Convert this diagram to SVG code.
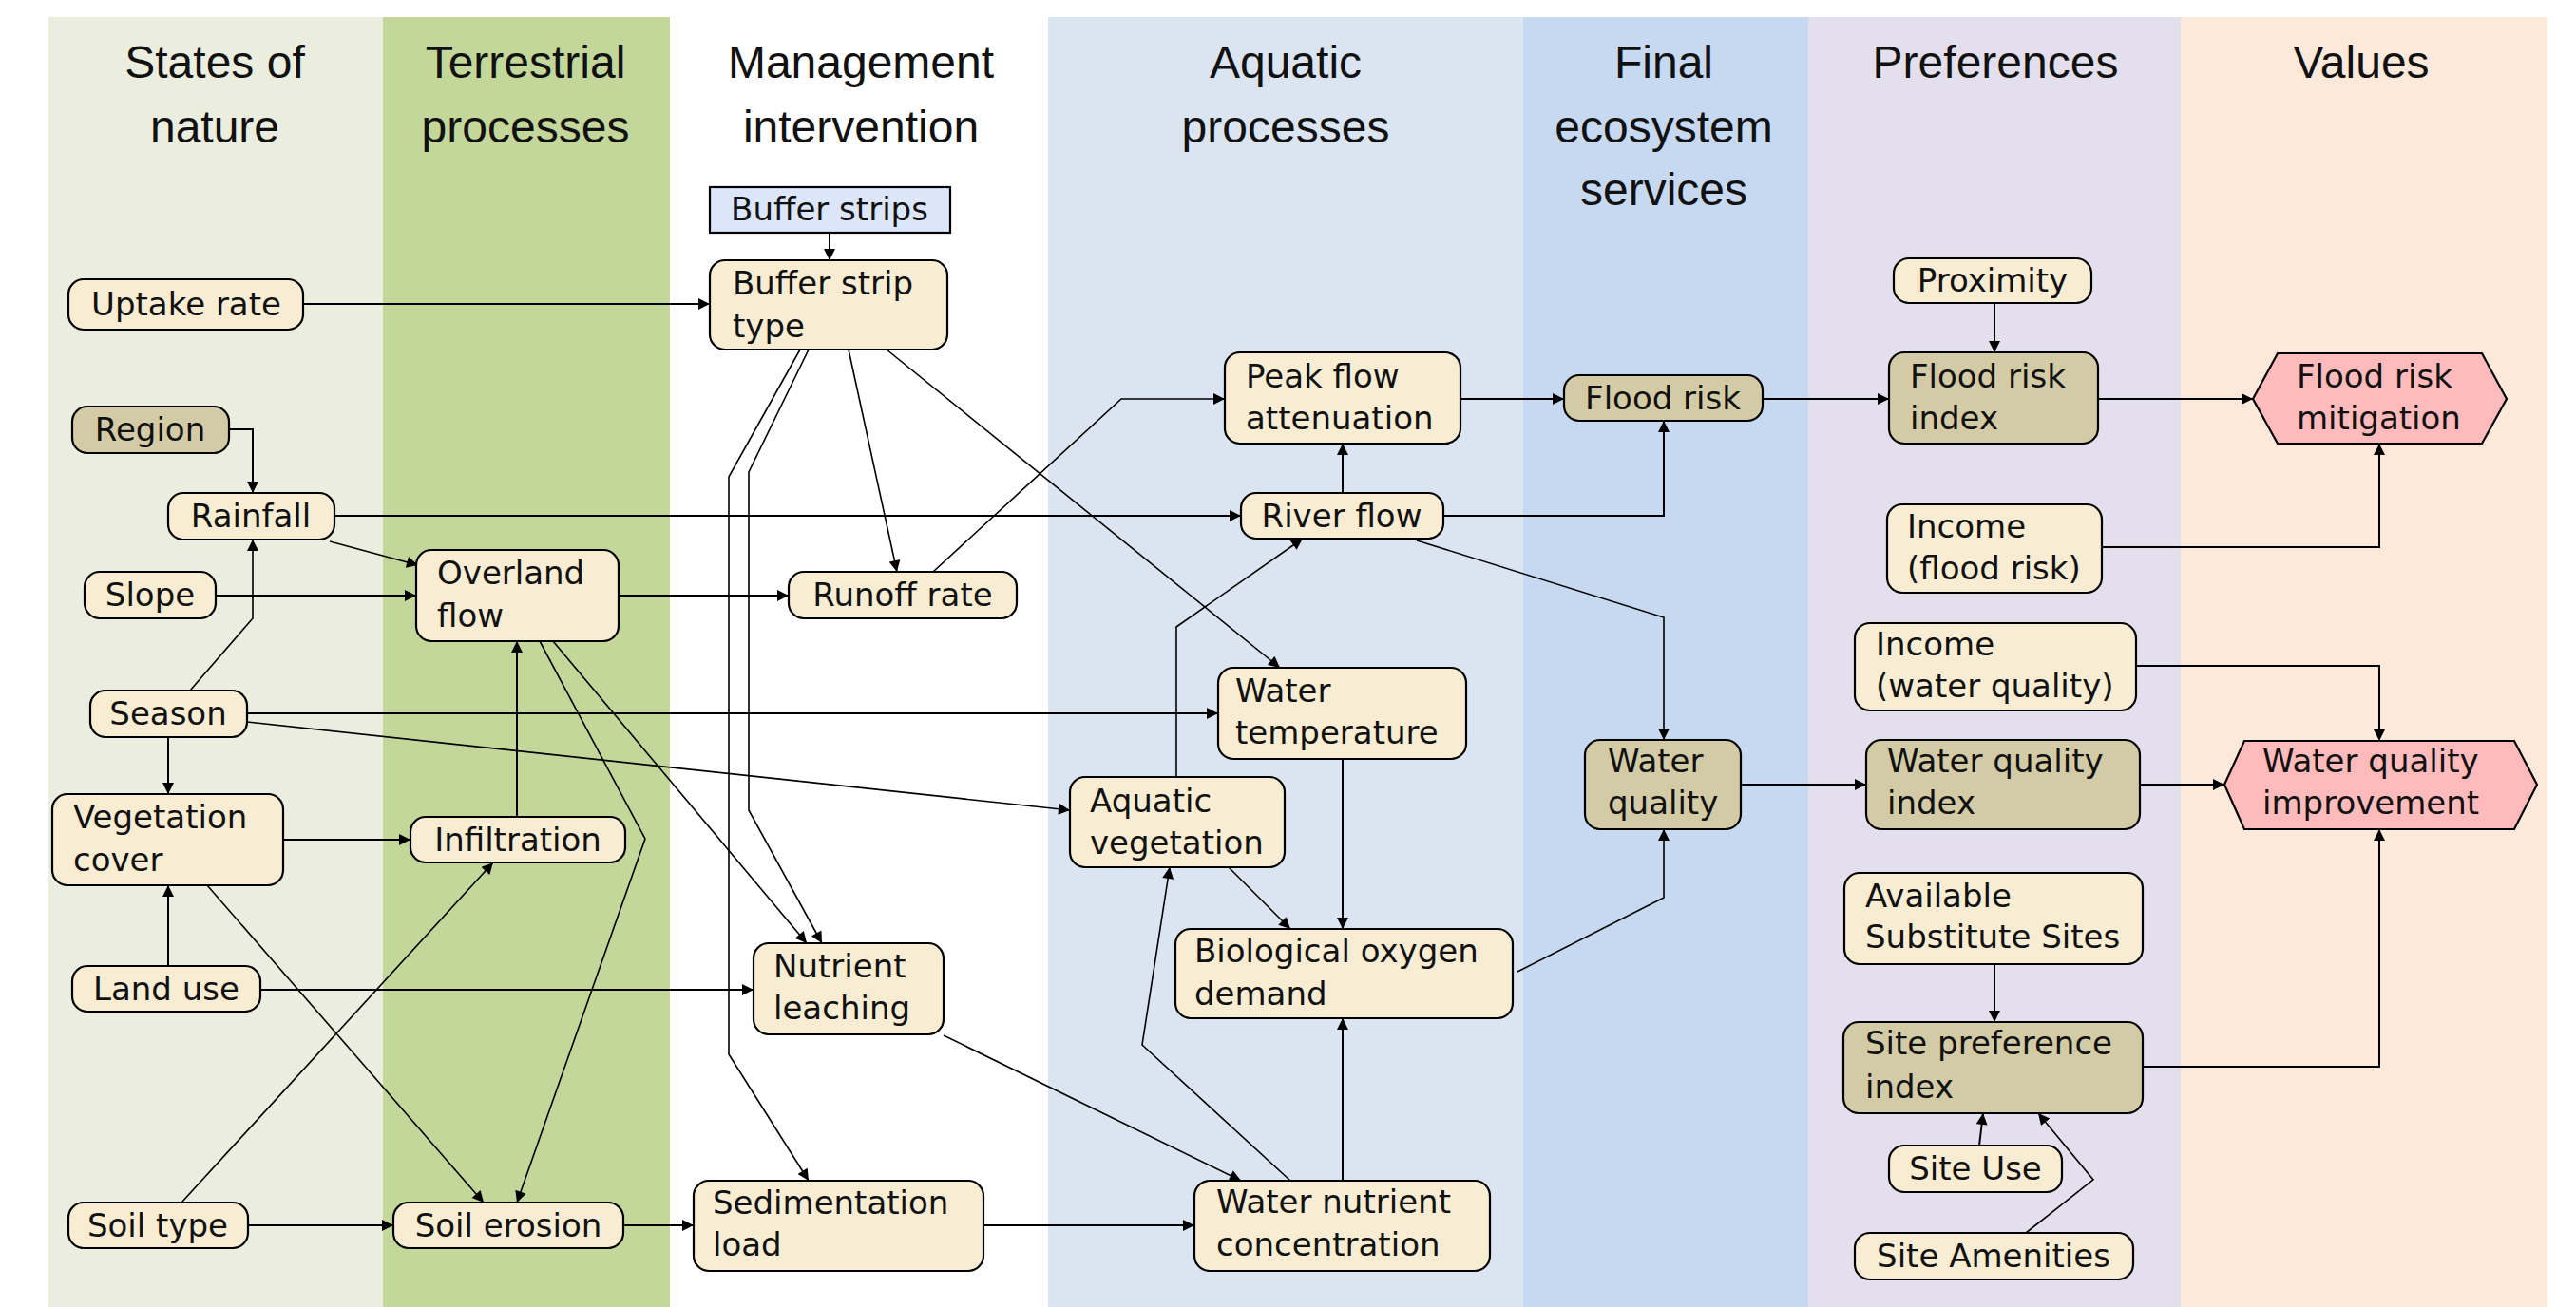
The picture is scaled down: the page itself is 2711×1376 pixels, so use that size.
<svg xmlns="http://www.w3.org/2000/svg" width="2711" height="1376" viewBox="0 0 2711 1376">
<style>
.h{font-family:"Liberation Sans",Arial,sans-serif;font-size:48px;fill:#111;text-anchor:middle}
.l{font-family:"DejaVu Sans",Verdana,sans-serif;font-size:34px;fill:#111}
.m{text-anchor:middle}
.n{stroke:#000;stroke-width:2.2}
.c{fill:#F8EDD2}
.t{fill:#D3CBA6}
.p{fill:#FFBBBB}
.b{fill:#DBE6FA}
#connectors path{fill:none;stroke:#000;stroke-width:2;marker-end:url(#ah)}
#connectors path.d{stroke-width:1.6}
</style>
<defs>
<marker id="ah" viewBox="0 0 10 10" refX="10" refY="5" markerWidth="14" markerHeight="12" markerUnits="userSpaceOnUse" orient="auto">
<path d="M0,0 L10,5 L0,10 z" fill="#000"/>
</marker>
</defs>
<rect width="2711" height="1376" fill="#fff"/>
<g id="bands">
<rect x="51" y="18" width="352" height="1358" fill="#EBEEDE"/>
<rect x="403" y="18" width="302" height="1358" fill="#C4D79B"/>
<rect x="705" y="18" width="398" height="1358" fill="#FFFFFF"/>
<rect x="1103" y="18" width="500" height="1358" fill="#DBE5F1"/>
<rect x="1603" y="18" width="300" height="1358" fill="#C6D9F0"/>
<rect x="1903" y="18" width="392" height="1358" fill="#E4DFEC"/>
<rect x="2295" y="18" width="386" height="1358" fill="#FDE9D9"/>
</g>
<g id="headers">
<text class="h" x="226" y="82">States of</text>
<text class="h" x="226" y="150">nature</text>
<text class="h" x="553" y="82">Terrestrial</text>
<text class="h" x="553" y="150">processes</text>
<text class="h" x="906" y="82">Management</text>
<text class="h" x="906" y="150">intervention</text>
<text class="h" x="1353" y="82">Aquatic</text>
<text class="h" x="1353" y="150">processes</text>
<text class="h" x="1751" y="82">Final</text>
<text class="h" x="1751" y="150">ecosystem</text>
<text class="h" x="1751" y="216">services</text>
<text class="h" x="2100" y="82">Preferences</text>
<text class="h" x="2485" y="82">Values</text>
</g>
<g id="connectors">
<path d="M873,245 V274"/>
<path d="M319,320 H747"/>
<path d="M241,452 H266 V519"/>
<path class="d" d="M200,727 L266,651 V568"/>
<path class="d" d="M347,570 L440,595"/>
<path d="M352,543 H1306"/>
<path d="M227,627 H438"/>
<path d="M651,627 H830"/>
<path d="M177,776 V836"/>
<path d="M260,751 H1282"/>
<path class="d" d="M260,760 L1126,853"/>
<path d="M298,884 H432"/>
<path d="M544,860 V675"/>
<path d="M177,1017 V932"/>
<path d="M274,1042 H793"/>
<path class="d" d="M218,932 L509,1266"/>
<path class="d" d="M191,1266 L519,908"/>
<path d="M261,1290 H414"/>
<path class="d" d="M568,675 L679,883 L544,1266"/>
<path class="d" d="M582,675 L849,993"/>
<path d="M656,1290 H730"/>
<path class="d" d="M842,368 L767,502 V1110 L851,1243"/>
<path class="d" d="M851,368 L788,497 V853 L865,993"/>
<path class="d" d="M893,368 L944,602"/>
<path class="d" d="M933,368 L1347,703"/>
<path class="d" d="M982,602 L1180,420 H1289"/>
<path d="M1413,519 V467"/>
<path d="M1537,420 H1646"/>
<path d="M1519,543 H1751 V443"/>
<path d="M1855,420 H1988"/>
<path d="M2099,319 V371"/>
<path d="M2208,420 H2371"/>
<path d="M2212,576 H2504 V467"/>
<path class="d" d="M1491,569 L1751,650 V779"/>
<path d="M1832,826 H1964"/>
<path d="M2252,826 H2341"/>
<path d="M2248,701 H2504 V780"/>
<path d="M2255,1123 H2504 V873"/>
<path d="M2099,1015 V1076"/>
<path d="M2083,1206 L2087,1172"/>
<path class="d" d="M2132,1298 L2203,1242 L2145,1172"/>
<path d="M1413,799 V978"/>
<path class="d" d="M1293,913 L1358,978"/>
<path class="d" d="M1238,818 V660 L1371,567"/>
<path class="d" d="M1597,1023 L1751,945 V873"/>
<path d="M1413,1243 V1072"/>
<path class="d" d="M1358,1243 L1202,1100 L1231,913"/>
<path class="d" d="M993,1090 L1306,1243"/>
<path d="M1035,1290 H1257"/>
</g>
<g id="node-uptake-rate"><rect class="n c" x="72" y="294" width="247" height="53" rx="16"/><text class="l m" x="196" y="332">Uptake rate</text></g>
<g id="node-region"><rect class="n t" x="76" y="428" width="165" height="49" rx="16"/><text class="l m" x="158" y="464">Region</text></g>
<g id="node-rainfall"><rect class="n c" x="177" y="519" width="175" height="49" rx="16"/><text class="l m" x="264" y="555">Rainfall</text></g>
<g id="node-slope"><rect class="n c" x="89" y="602" width="138" height="49" rx="16"/><text class="l m" x="158" y="638">Slope</text></g>
<g id="node-season"><rect class="n c" x="95" y="727" width="165" height="49" rx="16"/><text class="l m" x="177" y="763">Season</text></g>
<g id="node-vegetation-cover"><rect class="n c" x="55" y="836" width="243" height="96" rx="16"/><text class="l" x="77" y="872">Vegetation<tspan x="77" y="917">cover</tspan></text></g>
<g id="node-land-use"><rect class="n c" x="76" y="1017" width="198" height="48" rx="16"/><text class="l m" x="175" y="1053">Land use</text></g>
<g id="node-soil-type"><rect class="n c" x="72" y="1266" width="189" height="48" rx="16"/><text class="l m" x="166" y="1302">Soil type</text></g>
<g id="node-overland-flow"><rect class="n c" x="438" y="579" width="213" height="96" rx="16"/><text class="l" x="460" y="615">Overland<tspan x="460" y="660">flow</tspan></text></g>
<g id="node-infiltration"><rect class="n c" x="432" y="860" width="226" height="48" rx="16"/><text class="l m" x="545" y="896">Infiltration</text></g>
<g id="node-soil-erosion"><rect class="n c" x="414" y="1266" width="242" height="48" rx="16"/><text class="l m" x="535" y="1302">Soil erosion</text></g>
<g id="node-buffer-strips"><rect class="n b" x="747" y="197" width="253" height="48"/><text class="l m" x="873" y="232">Buffer strips</text></g>
<g id="node-buffer-strip-type"><rect class="n c" x="747" y="274" width="250" height="94" rx="16"/><text class="l" x="771" y="310">Buffer strip<tspan x="771" y="355">type</tspan></text></g>
<g id="node-runoff-rate"><rect class="n c" x="830" y="602" width="240" height="49" rx="16"/><text class="l m" x="950" y="638">Runoff rate</text></g>
<g id="node-nutrient-leaching"><rect class="n c" x="793" y="993" width="200" height="96" rx="16"/><text class="l" x="814" y="1029">Nutrient<tspan x="814" y="1073">leaching</tspan></text></g>
<g id="node-sedimentation-load"><rect class="n c" x="730" y="1243" width="305" height="95" rx="16"/><text class="l" x="750" y="1278">Sedimentation<tspan x="750" y="1322">load</tspan></text></g>
<g id="node-peak-flow-attenuation"><rect class="n c" x="1289" y="371" width="248" height="96" rx="16"/><text class="l" x="1311" y="408">Peak flow<tspan x="1311" y="452">attenuation</tspan></text></g>
<g id="node-river-flow"><rect class="n c" x="1306" y="519" width="213" height="48" rx="16"/><text class="l m" x="1412" y="555">River flow</text></g>
<g id="node-water-temperature"><rect class="n c" x="1282" y="703" width="261" height="96" rx="16"/><text class="l" x="1300" y="739">Water<tspan x="1300" y="783">temperature</tspan></text></g>
<g id="node-aquatic-vegetation"><rect class="n c" x="1126" y="818" width="226" height="95" rx="16"/><text class="l" x="1147" y="855">Aquatic<tspan x="1147" y="899">vegetation</tspan></text></g>
<g id="node-biological-oxygen-demand"><rect class="n c" x="1237" y="978" width="355" height="94" rx="16"/><text class="l" x="1257" y="1013">Biological oxygen<tspan x="1257" y="1058">demand</tspan></text></g>
<g id="node-water-nutrient-concentration"><rect class="n c" x="1257" y="1243" width="311" height="95" rx="16"/><text class="l" x="1280" y="1277">Water nutrient<tspan x="1280" y="1322">concentration</tspan></text></g>
<g id="node-flood-risk"><rect class="n t" x="1646" y="395" width="209" height="48" rx="16"/><text class="l m" x="1750" y="431">Flood risk</text></g>
<g id="node-water-quality"><rect class="n t" x="1668" y="779" width="164" height="94" rx="16"/><text class="l" x="1692" y="813">Water<tspan x="1692" y="857">quality</tspan></text></g>
<g id="node-proximity"><rect class="n c" x="1993" y="272" width="208" height="47" rx="16"/><text class="l m" x="2097" y="307">Proximity</text></g>
<g id="node-flood-risk-index"><rect class="n t" x="1988" y="371" width="220" height="96" rx="16"/><text class="l" x="2010" y="408">Flood risk<tspan x="2010" y="452">index</tspan></text></g>
<g id="node-income-flood-risk"><rect class="n c" x="1986" y="531" width="226" height="93" rx="16"/><text class="l" x="2007" y="566">Income<tspan x="2007" y="610">(flood risk)</tspan></text></g>
<g id="node-income-water-quality"><rect class="n c" x="1952" y="656" width="296" height="92" rx="16"/><text class="l" x="1974" y="690">Income<tspan x="1974" y="734">(water quality)</tspan></text></g>
<g id="node-water-quality-index"><rect class="n t" x="1964" y="779" width="288" height="94" rx="16"/><text class="l" x="1986" y="813">Water quality<tspan x="1986" y="857">index</tspan></text></g>
<g id="node-available-substitute-sites"><rect class="n c" x="1941" y="919" width="314" height="96" rx="16"/><text class="l" x="1963" y="955">Available<tspan x="1963" y="998">Substitute Sites</tspan></text></g>
<g id="node-site-preference-index"><rect class="n t" x="1940" y="1076" width="315" height="96" rx="16"/><text class="l" x="1963" y="1110">Site preference<tspan x="1963" y="1156">index</tspan></text></g>
<g id="node-site-use"><rect class="n c" x="1988" y="1206" width="182" height="49" rx="16"/><text class="l m" x="2079" y="1242">Site Use</text></g>
<g id="node-site-amenities"><rect class="n c" x="1952" y="1298" width="293" height="49" rx="16"/><text class="l m" x="2098" y="1334">Site Amenities</text></g>
<g id="node-flood-risk-mitigation"><polygon class="n p" points="2397,372 2612,372 2638,420 2612,467 2397,467 2371,420"/><text class="l" x="2417" y="408">Flood risk<tspan x="2417" y="452">mitigation</tspan></text></g>
<g id="node-water-quality-improvement"><polygon class="n p" points="2362,780 2646,780 2670,826 2646,873 2362,873 2341,826"/><text class="l" x="2381" y="813">Water quality<tspan x="2381" y="857">improvement</tspan></text></g>
</svg>
